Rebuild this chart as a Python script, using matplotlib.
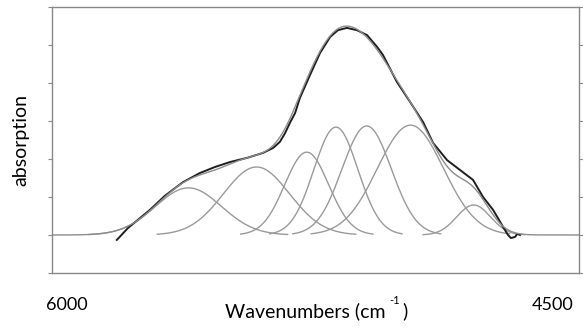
import numpy as np
import matplotlib.pyplot as plt

plt.rcParams['font.family'] = ['Lato', 'DejaVu Sans']

# measured NIR band (wavenumber, absorption)
spec_wn = [5846, 5812, 5744, 5698, 5642, 5590, 5543, 5497, 5444, 5395, 5364,
           5343, 5327, 5312, 5296, 5281, 5250, 5219, 5188, 5164, 5136, 5105,
           5074, 5043, 5025, 4982, 4941, 4901, 4870, 4827, 4787, 4747, 4716,
           4685, 4654, 4639, 4630, 4617, 4611, 4602]
spec_abs = [-0.013, 0.018, 0.066, 0.103, 0.139, 0.163, 0.179, 0.192, 0.203,
            0.216, 0.229, 0.245, 0.268, 0.295, 0.321, 0.361, 0.421, 0.479,
            0.521, 0.539, 0.545, 0.539, 0.526, 0.495, 0.474, 0.403, 0.350,
            0.297, 0.242, 0.197, 0.171, 0.145, 0.100, 0.066, 0.021, 0.000,
            -0.008, -0.005, 0.003, 0.000]

# fitted gaussian components
centers = [5625, 5415, 5260, 5170, 5075, 4940, 4745]
heights = [0.124, 0.179, 0.218, 0.284, 0.287, 0.289, 0.079]
sigmas = [102, 102, 68, 68, 76, 102, 52]

x_lo, x_hi = 4420, 6046


def gauss(x, c, h, s):
    return h * np.exp(-0.5 * ((x - c) / s) ** 2)


fig = plt.figure(figsize=(5.83, 3.28), dpi=100)
ax = fig.add_axes([52 / 583, 55 / 328, 527 / 583, 266 / 328])

xs = np.linspace(x_lo, x_hi, 1500)
total = np.zeros_like(xs)
for c, h, s in zip(centers, heights, sigmas):
    total += gauss(xs, c, h, s)
    xc = np.linspace(c - 3 * s, c + 3 * s, 300)
    ax.plot(xc, gauss(xc, c, h, s), color='#9a9a9a', lw=1.0)

ax.plot(spec_wn, spec_abs, color='#1e1e1e', lw=1.4)
ax.plot(xs, total, color='#8c8c8c', lw=1.0)

ax.set_xlim(x_hi, x_lo)
ax.set_ylim(-0.1, 0.6)
ax.set_yticks(np.arange(-0.1, 0.61, 0.1))
ax.set_yticklabels([])
ax.tick_params(axis='y', left=True, right=True, length=3, color='#888888',
               direction='out')
ax.set_xticks([6000, 4500])
ax.set_xticklabels(['6000', '4500'], fontsize=13)
ax.tick_params(axis='x', length=0, pad=17)
for sp in ax.spines.values():
    sp.set_color('#888888')
    sp.set_linewidth(1.0)

ax.set_ylabel('absorption', fontsize=14, labelpad=10)
fig.text(225 / 583, 1 - 311 / 328, 'Wavenumbers (cm', fontsize=14,
         ha='left', va='center')
fig.text(389 / 583, 1 - 301 / 328, '-1', fontsize=8, ha='left', va='center')
fig.text(402 / 583, 1 - 311 / 328, ')', fontsize=14, ha='left', va='center')

fig.savefig('out.png', dpi=100)
